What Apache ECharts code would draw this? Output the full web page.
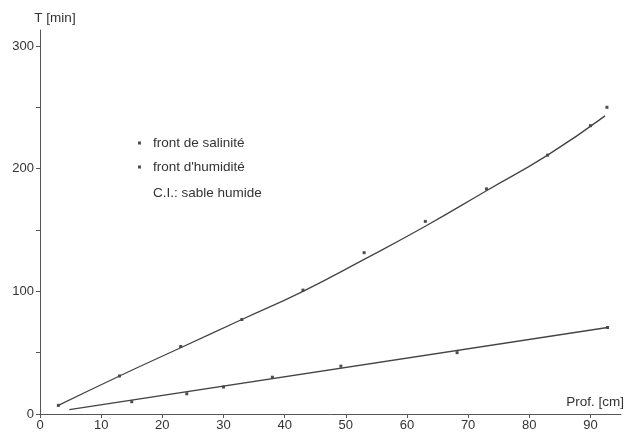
<!DOCTYPE html>
<html>
<head>
<meta charset="utf-8">
<script src="https://cdn.jsdelivr.net/npm/echarts@6/dist/echarts.min.js"></script>
<style>
  html, body { margin: 0; padding: 0; background: #fff; }
  #chart { width: 627px; height: 432px; }
</style>
</head>
<body>
<div id="chart"></div>
<script>
// measured points, front de salinité
const salDepth = [3, 13, 23, 33, 43, 53, 63, 73, 83, 90, 92.7]
const salTime = [7, 31, 55, 77, 101, 131.5, 157, 183.5, 211, 235, 250]
// hand-drawn curve through them
const salCurveDepth = [3, 13, 23, 33, 43, 53, 63, 73, 83, 92.4]
const salCurveTime = [7, 31, 54, 77, 100, 126, 153, 182, 211, 243]

// measured points, front d'humidité
const humDepth = [15, 24, 30, 38, 49.2, 68.2, 92.8]
const humTime = [10, 16.5, 22, 30, 39, 50, 70.5]
const humLineDepth = [4.8, 92.8]
const humLineTime = [3.5, 70.5]

const xTicks = [0, 10, 20, 30, 40, 50, 60, 70, 80, 90]
const yTicks = [0, 50, 100, 150, 200, 250, 300]
const yLabels = [0, 100, 200, 300]

const ink = '#333'
const font = 'Liberation Sans'

const pairs = (xs, ys) => xs.map((x, i) => [x, ys[i]])

const chart = echarts.init(document.getElementById('chart'))

chart.setOption({
  backgroundColor: '#fff',
  animation: false,
  grid: { left: 40, right: 5, top: 30, bottom: 17 },
  legend: {
    orient: 'vertical',
    left: 133,
    top: 131,
    icon: 'rect',
    itemWidth: 3,
    itemHeight: 3,
    itemGap: 10,
    data: ['front de salinité', "front d'humidité"],
    textStyle: { color: ink, fontFamily: font, fontSize: 13.5, lineHeight: 14, padding: [0, 0, 0, 7] }
  },
  graphic: [{
    type: 'text',
    left: 153,
    top: 186,
    style: { text: 'C.I.: sable humide', fill: ink, font: '13.5px "Liberation Sans"' }
  }],
  xAxis: {
    type: 'value',
    min: 0,
    max: 95,
    name: 'Prof. [cm]',
    nameLocation: 'end',
    nameGap: 3,
    nameTextStyle: { color: ink, fontFamily: font, fontSize: 13.5, align: 'right', verticalAlign: 'bottom', padding: [0, 0, 5, 0] },
    splitLine: { show: false },
    axisLine: { lineStyle: { color: '#555', width: 1 } },
    axisTick: { show: true, length: 4, customValues: xTicks, lineStyle: { color: '#555' } },
    axisLabel: { customValues: xTicks, color: ink, fontFamily: font, fontSize: 13, margin: 5 }
  },
  yAxis: {
    type: 'value',
    min: 0,
    max: 313,
    name: 'T [min]',
    nameLocation: 'end',
    nameGap: 5,
    nameTextStyle: { color: ink, fontFamily: font, fontSize: 13.5, align: 'center', padding: [0, 0, 0, 30] },
    splitLine: { show: false },
    axisLine: { show: true, lineStyle: { color: '#555', width: 1 } },
    axisTick: { show: true, length: 4, customValues: yTicks, lineStyle: { color: '#555' } },
    axisLabel: { customValues: yLabels, color: ink, fontFamily: font, fontSize: 13, margin: 6 }
  },
  series: [
    {
      name: 'courbe salinité',
      type: 'line',
      smooth: true,
      showSymbol: false,
      data: pairs(salCurveDepth, salCurveTime),
      lineStyle: { color: '#444', width: 1.3 },
      silent: true
    },
    {
      name: 'droite humidité',
      type: 'line',
      showSymbol: false,
      data: pairs(humLineDepth, humLineTime),
      lineStyle: { color: '#444', width: 1.3 },
      silent: true
    },
    {
      name: 'front de salinité',
      type: 'scatter',
      symbol: 'rect',
      symbolSize: 3,
      itemStyle: { color: '#222' },
      data: pairs(salDepth, salTime)
    },
    {
      name: "front d'humidité",
      type: 'scatter',
      symbol: 'rect',
      symbolSize: 3,
      itemStyle: { color: '#222' },
      data: pairs(humDepth, humTime)
    }
  ]
})
</script>
</body>
</html>
